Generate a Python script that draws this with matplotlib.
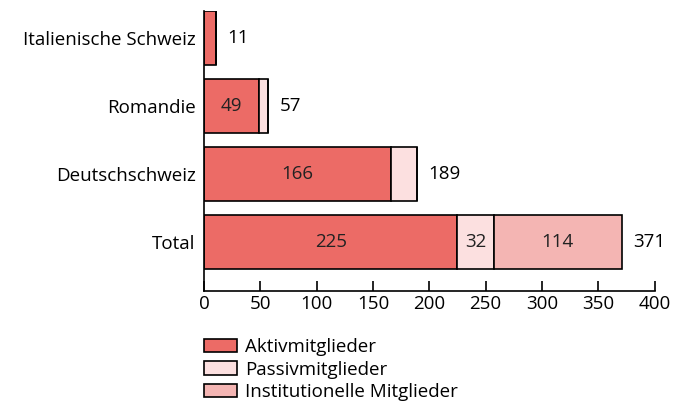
import numpy as np
import matplotlib.pyplot as plt

# Daten
regionen = ["Italienische Schweiz", "Romandie", "Deutschschweiz", "Total"]
aktiv = [11, 49, 166, 225]
passiv = [0, 8, 23, 32]
institutionell = [0, 0, 0, 114]
serien = ["Aktivmitglieder", "Passivmitglieder", "Institutionelle Mitglieder"]
farben = ["#EC6B66", "#FCE0E0", "#F4B5B3"]

plt.rcParams["font.family"] = ["Open Sans", "DejaVu Sans"]
FS = 13.5

fig = plt.figure(figsize=(6.82, 4.01), dpi=100)
ax = fig.add_axes([0.299, 0.274, 0.661, 0.6986])

y = np.arange(len(regionen))
werte = [np.array(aktiv), np.array(passiv), np.array(institutionell)]
links = np.zeros(len(regionen))
for name, w, f in zip(serien, werte, farben):
    bars = ax.barh(y, w, left=links, height=0.8, color=f, edgecolor="black",
                   linewidth=1.2, label=name)
    for b, v in zip(bars, w):
        # Werte nur in breiten Segmenten anzeigen
        if v >= 30:
            ax.text(b.get_x() + b.get_width() / 2, b.get_y() + b.get_height() / 2,
                    str(v), ha="center", va="center", fontsize=FS, color="#222222")
    links = links + w

summen = links
for yi, s in zip(y, summen):
    ax.annotate(str(int(s)), (s, yi), xytext=(8, 0), textcoords="offset points",
                ha="left", va="center", fontsize=FS, color="black")

ax.set_xlim(0, 400)
ax.set_ylim(3.72, -0.4)
ax.set_xticks(np.arange(0, 401, 50))
ax.set_yticks(y)
ax.set_yticklabels(regionen, fontsize=FS)
ax.tick_params(axis="y", length=0, pad=6)
ax.tick_params(axis="x", direction="in", length=7, width=1.2, labelsize=FS, pad=3)
for s in ["top", "right"]:
    ax.spines[s].set_visible(False)
for s in ["left", "bottom"]:
    ax.spines[s].set_linewidth(1.2)

fig.legend(loc="upper left", bbox_to_anchor=(0.299, 0.157), frameon=False,
           fontsize=FS, handlelength=1.75, handleheight=0.75, handletextpad=0.45,
           labelspacing=0.24, borderaxespad=0, borderpad=0)

fig.savefig("out.png", dpi=100)
